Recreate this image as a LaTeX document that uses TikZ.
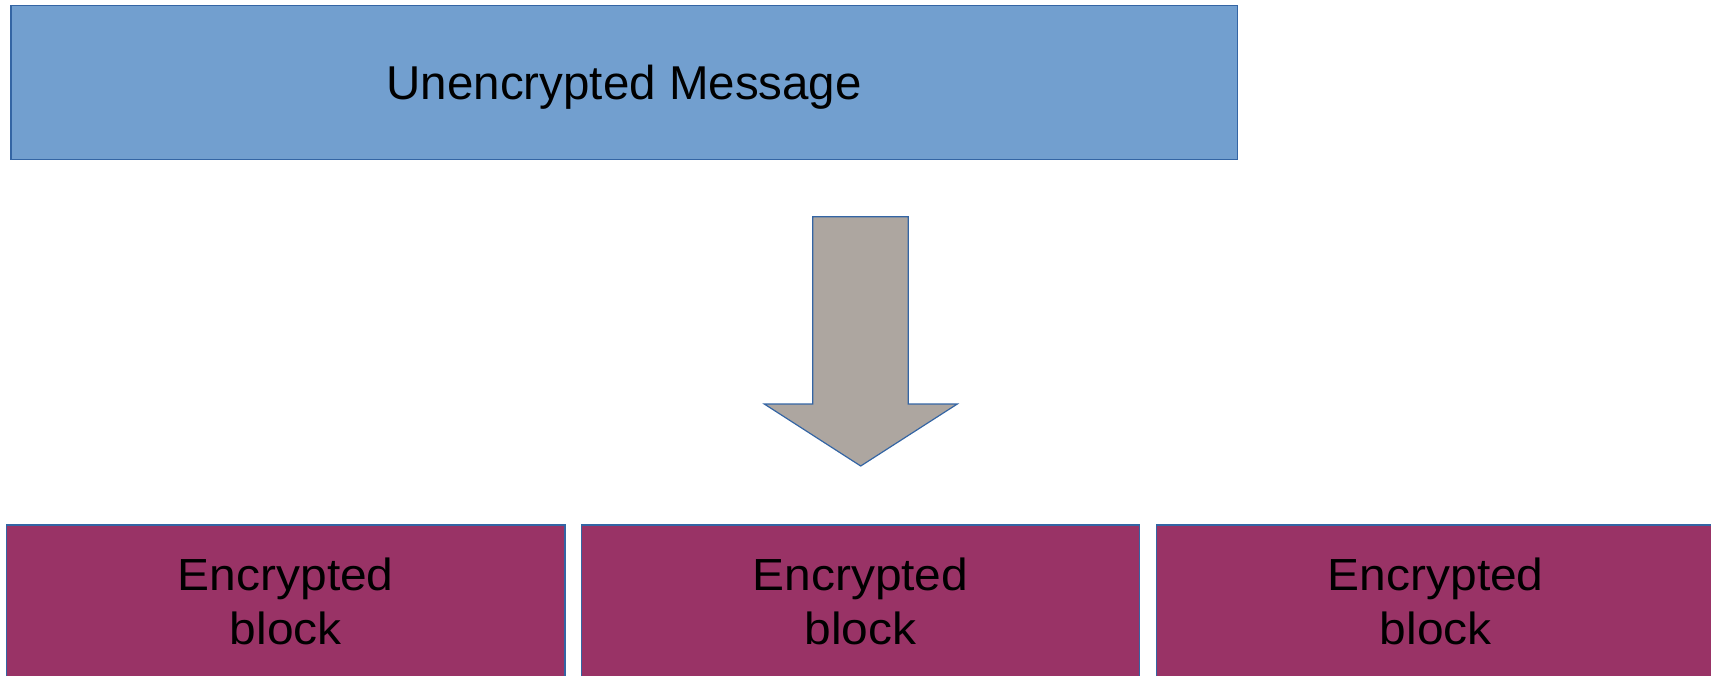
\documentclass[tikz,border=0pt]{standalone}
\usepackage{fontspec}
\setmainfont{Liberation Sans}
\newfontfamily\blockfont[FakeStretch=1.065]{Liberation Sans}
\definecolor{msgblue}{HTML}{729FCF}
\definecolor{edgeblue}{HTML}{3465A4}
\definecolor{encpurple}{HTML}{993366}
\definecolor{arrowgray}{RGB}{173,166,160}
\tikzset{
  msgbox/.style={draw=edgeblue, fill=msgblue, line width=1.2pt, inner sep=0pt,
    minimum width=1226.5pt, minimum height=153.6pt, text depth=0pt,
    font=\fontsize{47.5}{57}\selectfont},
  encbox/.style={draw=edgeblue, fill=encpurple, line width=1.2pt, inner sep=0pt,
    minimum width=558.5pt, minimum height=153pt, align=center,
    font=\blockfont\fontsize{45}{54.3}\selectfont},
  bigarrow/.style={draw=edgeblue, fill=arrowgray, line width=1.2pt, line join=miter}
}
\begin{document}
\begin{tikzpicture}[x=1pt, y=-1pt]
  \useasboundingbox (0,0) rectangle (1711,675);
  \clip (0,0) rectangle (1711,675);
  % the plain message
  \node[msgbox] (msg) at (624.25,82.5) {Unencrypted Message};
  % downward block arrow
  \coordinate (tip) at (860.7,466);
  \draw[bigarrow] (812.7,216.7) -- (908.3,216.7) -- (908.3,404) -- (957.3,404)
    -- (tip) -- (764.3,404) -- (812.7,404) -- cycle;
  % the resulting blocks
  \node[encbox] (b1) at (285.75,601.5) {Encrypted\\block};
  \node[encbox] (b2) at (860.4,601.5) {Encrypted\\block};
  \node[encbox] (b3) at (1435.75,601.5) {Encrypted\\block};
\end{tikzpicture}
\end{document}
